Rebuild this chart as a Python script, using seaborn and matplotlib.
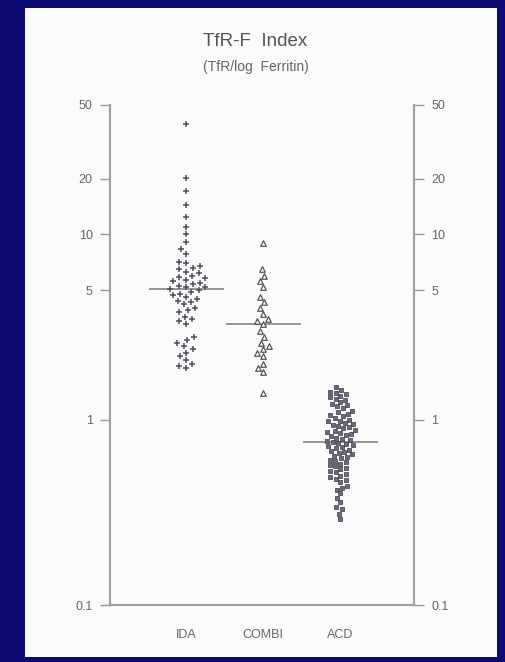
import numpy as np
import pandas as pd
import matplotlib.pyplot as plt
import seaborn as sns
from matplotlib.patches import Rectangle

# values (TfR / log Ferritin)
groups = ['IDA', 'COMBI', 'ACD']
ida = [39.3, 20.3, 17.1, 14.5, 12.5, 11.0, 10.0, 9.1, 8.3, 7.8, 7.1, 7.0, 6.8, 6.6,
       6.5, 6.3, 6.2, 6.0, 5.9, 5.8, 5.7, 5.6, 5.5, 5.4, 5.3, 5.2, 5.2, 5.1, 5.0,
       4.9, 4.8, 4.7, 4.6, 4.5, 4.4, 4.3, 4.2, 4.0, 3.9, 3.8, 3.6, 3.5, 3.4, 3.3,
       2.8, 2.7, 2.6, 2.5, 2.4, 2.3, 2.2, 2.1, 2.0, 1.95, 1.9]
combi = [9.0, 6.5, 6.0, 5.6, 5.2, 4.6, 4.3, 4.0, 3.7, 3.5, 3.4, 3.3, 3.0, 2.8,
         2.6, 2.5, 2.4, 2.3, 2.2, 2.0, 1.9, 1.8, 1.4]
acd = [1.5, 1.45, 1.42, 1.4, 1.38, 1.35, 1.32, 1.3, 1.28, 1.25, 1.22, 1.2, 1.18,
       1.15, 1.12, 1.1, 1.08, 1.06, 1.05, 1.02, 1.0, 0.99, 0.98, 0.96, 0.95,
       0.94, 0.92, 0.91, 0.9, 0.88, 0.87, 0.86, 0.85, 0.84, 0.83, 0.82, 0.8,
       0.79, 0.78, 0.77, 0.76, 0.75, 0.74, 0.73, 0.72,
       0.71, 0.7, 0.69, 0.68, 0.67, 0.66, 0.65, 0.64, 0.63, 0.62, 0.61, 0.6,
       0.59, 0.58, 0.57, 0.56, 0.55, 0.54, 0.53, 0.52, 0.51, 0.5, 0.49, 0.48,
       0.47, 0.46, 0.44, 0.43, 0.42, 0.4, 0.38, 0.36, 0.34, 0.33, 0.31, 0.29]
yticks = [0.1, 1, 5, 10, 20, 50]
ytick_labels = ['0.1', '1', '5', '10', '20', '50']

df = pd.DataFrame({
    'group': ['IDA'] * len(ida) + ['COMBI'] * len(combi) + ['ACD'] * len(acd),
    'value': ida + combi + acd,
})

sns.set_style('white')
plt.rcParams['font.family'] = ['Liberation Sans', 'DejaVu Sans']

fig = plt.figure(figsize=(5.06, 6.62), dpi=100, facecolor='#0a0a72')
fig.patches.append(Rectangle((0.049, 0.008), 0.934, 0.98, transform=fig.transFigure,
                             facecolor='#fbfbfb', edgecolor='none', zorder=-5))
ax = fig.add_axes([0.2174, 0.0861, 0.601, 0.7553])
ax.set_facecolor('none')
ax.set_yscale('log')

# median bars only
sns.boxplot(data=df, x='group', y='value', order=groups, width=0.97, ax=ax,
            showbox=False, showcaps=False, showfliers=False,
            whiskerprops={'visible': False},
            medianprops={'color': '#959595', 'linewidth': 1.4})

text_c = '#666666'
sns.swarmplot(data=df[df.group == 'IDA'], x='group', y='value', order=groups, ax=ax,
              marker='+', color='#4f4f5c', size=4, linewidth=1.1)
sns.swarmplot(data=df[df.group == 'COMBI'], x='group', y='value', order=groups, ax=ax,
              marker='^', color='white', edgecolor='#555555', size=4, linewidth=0.9)
sns.swarmplot(data=df[df.group == 'ACD'], x='group', y='value', order=groups, ax=ax,
              marker='s', color='#6a6a78', edgecolor='#3a3a48', size=3.4, linewidth=0.5)

ax.set_ylim(0.1, 50)
ax.set_xlim(-0.99, 2.96)
ax.set_yticks(yticks)
ax.set_yticklabels(ytick_labels)
ax.minorticks_off()
ax.tick_params(axis='y', which='both', left=True, right=True, labelleft=True,
               labelright=True, direction='out', length=7, width=1,
               color='#999999', labelcolor=text_c, labelsize=9, pad=5.5)
ax.tick_params(axis='x', bottom=False, labelcolor=text_c, labelsize=9, pad=14)
ax.set_xlabel('')
ax.set_ylabel('')
for side in ['left', 'right', 'bottom']:
    ax.spines[side].set_color('#a0a0a0')
    ax.spines[side].set_linewidth(1.6)
ax.spines['top'].set_visible(False)

fig.text(0.505, 0.938, 'TfR-F  Index', ha='center', va='center', fontsize=13.5,
         color='#555555')
fig.text(0.505, 0.899, '(TfR/log  Ferritin)', ha='center', va='center', fontsize=10,
         color='#666666')

fig.savefig('out.png', dpi=100, facecolor=fig.get_facecolor())
